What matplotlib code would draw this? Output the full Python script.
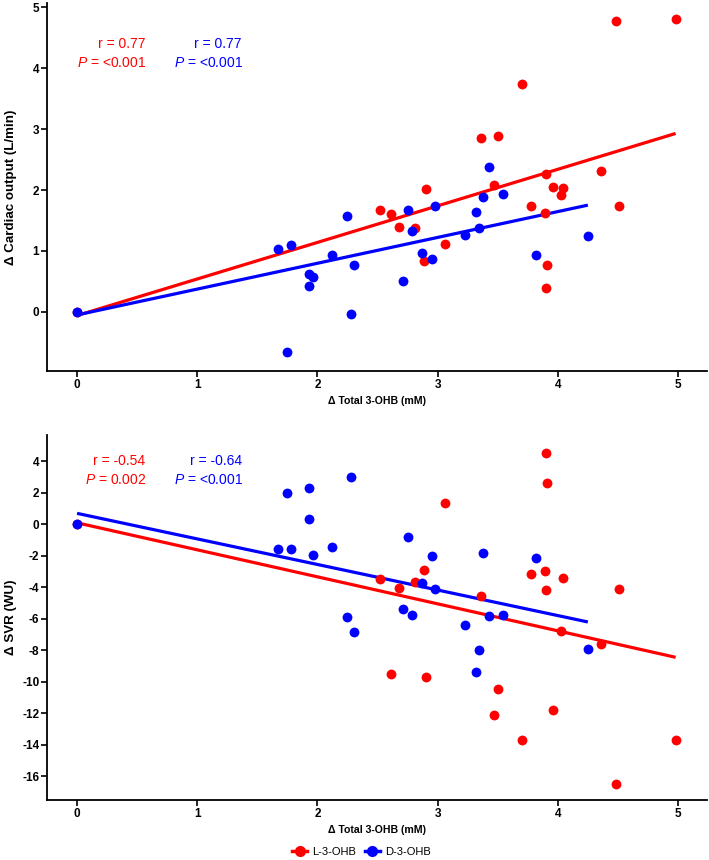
import numpy as np
import matplotlib
matplotlib.use("Agg")
import matplotlib.pyplot as plt
from matplotlib.lines import Line2D

# ---------------- data ----------------
red_x_co = [0, 4.98, 4.48, 3.70, 3.36, 3.50, 3.90, 4.36, 3.47, 3.96, 4.04, 4.03,
            3.78, 4.51, 3.89, 2.90, 2.52, 2.61, 2.68, 2.81, 3.06, 2.89, 3.91, 3.90]
red_y_co = [0, 4.81, 4.78, 3.74, 2.85, 2.88, 2.27, 2.31, 2.08, 2.05, 2.04, 1.91,
            1.74, 1.74, 1.63, 2.01, 1.67, 1.61, 1.40, 1.37, 1.11, 0.83, 0.77, 0.39]
blue_x_co = [0, 1.67, 1.78, 2.25, 1.93, 1.96, 1.93, 2.12, 2.30, 2.28, 1.75, 2.71, 2.75,
             2.79, 2.98, 2.87, 2.95, 3.23, 3.32, 3.34, 3.38, 3.43, 3.54, 3.82, 4.25]
blue_y_co = [0, 1.04, 1.10, 1.58, 0.62, 0.57, 0.43, 0.94, 0.77, -0.03, -0.66, 0.50, 1.68,
             1.32, 1.73, 0.97, 0.87, 1.26, 1.64, 1.37, 1.88, 2.37, 1.94, 0.94, 1.24]

red_x_svr = [0, 3.90, 3.91, 3.06, 2.89, 2.52, 2.68, 2.81, 3.36, 3.78, 3.89, 4.04,
             3.90, 4.51, 4.03, 4.36, 2.61, 2.90, 3.50, 3.47, 3.96, 3.70, 4.98, 4.48]
red_y_svr = [0, 4.52, 2.62, 1.35, -2.94, -3.48, -4.03, -3.65, -4.54, -3.17, -2.98, -3.40,
             -4.18, -4.14, -6.78, -7.62, -9.52, -9.71, -10.45, -12.08, -11.81, -13.69, -13.71, -16.47]
blue_x_svr = [0, 2.28, 1.75, 1.93, 1.93, 1.67, 1.78, 1.96, 2.12, 2.75, 2.95, 2.87, 2.98,
              2.25, 2.30, 2.71, 2.79, 3.38, 3.82, 3.43, 3.54, 3.23, 3.34, 3.32, 4.25]
blue_y_svr = [0, 2.96, 1.94, 2.28, 0.30, -1.58, -1.56, -1.96, -1.48, -0.84, -2.03, -3.76, -4.10,
              -5.87, -6.86, -5.36, -5.79, -1.82, -2.13, -5.85, -5.77, -6.42, -7.98, -9.40, -7.92]

# regression lines (intercept, slope)
red_fit_co = [-0.06, 0.600]
blue_fit_co = [-0.05, 0.424]
red_fit_svr = [0.08, -1.713]
blue_fit_svr = [0.68, -1.621]

stats_co = {"red": ("r = 0.77", "<0.001"), "blue": ("r = 0.77", "<0.001")}
stats_svr = {"red": ("r = -0.54", "0.002"), "blue": ("r = -0.64", "<0.001")}

x_ticks = [0, 1, 2, 3, 4, 5]
y_ticks_co = [0, 1, 2, 3, 4, 5]
y_ticks_svr = [4, 2, 0, -2, -4, -6, -8, -10, -12, -14, -16]
series_labels = ["L-3-OHB", "D-3-OHB"]

RED = "#FF0000"
BLUE = "#0000FF"

plt.rcParams['font.family'] = ['Liberation Sans', 'DejaVu Sans']
plt.rcParams['axes.unicode_minus'] = False
plt.rcParams['mathtext.fontset'] = 'custom'
plt.rcParams['mathtext.it'] = 'Liberation Sans:italic'
plt.rcParams['mathtext.rm'] = 'Liberation Sans'

fig = plt.figure(figsize=(7.09, 8.60), dpi=100)
ax1 = fig.add_axes([0.0663, 0.5686, 0.9307, 0.428])
ax2 = fig.add_axes([0.0663, 0.0698, 0.9307, 0.4242])


def style(ax, yticks, ylim, ylabel):
    ax.set_xlim(-0.25, 5.24)
    ax.set_ylim(*ylim)
    ax.set_xticks(x_ticks)
    ax.set_yticks(yticks)
    for s in ("top", "right"):
        ax.spines[s].set_visible(False)
    for s in ("left", "bottom"):
        ax.spines[s].set_linewidth(1.3)
    ax.tick_params(direction="out", length=4, width=1.2, labelsize=8.5, pad=1.5)
    for lab in ax.get_xticklabels() + ax.get_yticklabels():
        lab.set_fontweight("bold")
    ax.set_xlabel("Δ Total 3-OHB (mM)", fontsize=7.6, fontweight="bold", labelpad=4)
    ax.set_ylabel(ylabel, fontsize=9.6, fontweight="bold")
    ax.yaxis.set_label_coords(-0.045, 0.5)


def draw(ax, rx, ry, bx, by, rfit, bfit, stats, ty):
    for xs, ys, fit, c in ((rx, ry, rfit, RED), (bx, by, bfit, BLUE)):
        xs = np.asarray(xs)
        xl = np.array([xs.min(), xs.max()])
        ax.plot(xl, fit[0] + fit[1] * xl, color=c, lw=2.3, zorder=2, solid_capstyle='butt')
    ax.scatter(rx, ry, s=50, color=RED, zorder=3, linewidths=0)
    ax.scatter(bx, by, s=50, color=BLUE, zorder=4, linewidths=0)
    for key, c, xr in (("red", RED, 0.151), ("blue", BLUE, 0.297)):
        rtxt, ptxt = stats[key]
        ax.text(xr - 0.002, ty[0], rtxt, color=c, fontsize=10, ha="right", va="center",
                transform=ax.transAxes)
        ax.text(xr, ty[1], r"$\mathit{P}$ = " + ptxt, color=c, fontsize=10, ha="right",
                va="center", transform=ax.transAxes)


style(ax1, y_ticks_co, (-0.97, 5.07), "Δ Cardiac output (L/min)")
draw(ax1, red_x_co, red_y_co, blue_x_co, blue_y_co, red_fit_co, blue_fit_co, stats_co,
     (0.889, 0.837))
style(ax2, y_ticks_svr, (-17.5, 5.64), "Δ SVR (WU)")
draw(ax2, red_x_svr, red_y_svr, blue_x_svr, blue_y_svr, red_fit_svr, blue_fit_svr, stats_svr,
     (0.930, 0.877))

handles = [Line2D([], [], color=RED, marker='o', markersize=7, lw=2.5),
           Line2D([], [], color=BLUE, marker='o', markersize=7, lw=2.5)]
fig.legend(handles, series_labels, loc="center", bbox_to_anchor=(0.51, 1 - 852 / 860),
           ncol=2, frameon=False, fontsize=8, handlelength=1.3, columnspacing=0.8,
           handletextpad=0.5)

fig.savefig("out.png", dpi=100)
